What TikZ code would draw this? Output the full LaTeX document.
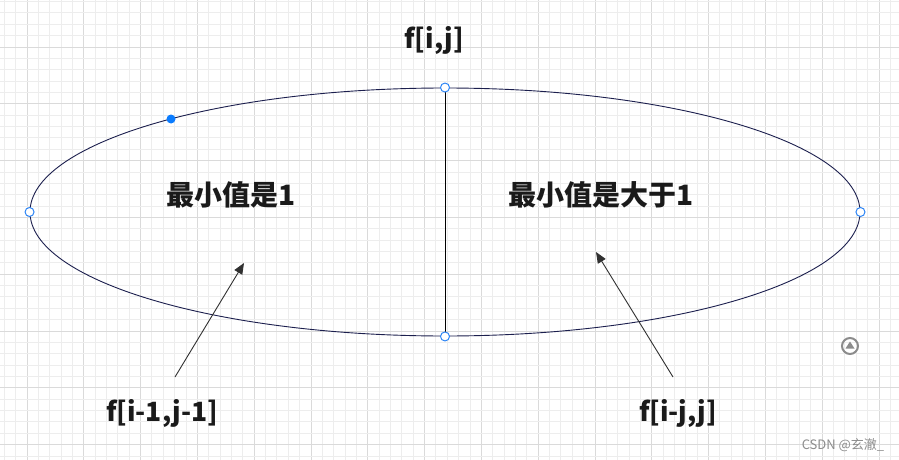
\documentclass[tikz,border=0pt]{standalone}
\usepackage{fontspec}
\setmainfont{Noto Sans CJK SC}
\usetikzlibrary{shapes.geometric,arrows.meta,calc}
\definecolor{gridminor}{HTML}{EDEDED}
\definecolor{gridmajor}{HTML}{DADADA}
\definecolor{navy}{HTML}{1C1F4E}
\definecolor{handle}{HTML}{2F86F6}
\definecolor{dotblue}{HTML}{0A7CFF}
\definecolor{icongray}{HTML}{8C8C8C}
\definecolor{txt}{HTML}{1A1A1A}
\tikzset{
  bigtext/.style={font=\fontsize{26.5}{28}\selectfont\bfseries, text=txt, inner sep=0pt},
  cjktext/.style={font=\fontsize{28}{30}\selectfont\bfseries, text=txt, inner sep=0pt},
  handlept/.style={circle, draw=handle, fill=white, line width=1pt, minimum size=9pt, inner sep=0pt},
  pointer/.style={draw=txt!90, line width=0.9pt, -{Triangle[length=11pt,width=9pt]}},
}
\begin{document}
\begin{tikzpicture}[x=1pt,y=-1pt]
\useasboundingbox (0,0) rectangle (899,460);
\fill[white] (0,0) rectangle (899,460);
% grid
\foreach \k in {0,...,79}{
  \pgfmathsetmacro{\xx}{4.3+11.36*\k}
  \pgfmathtruncatemacro{\m}{mod(\k,5)}
  \ifnum\m=2
    \draw[gridmajor, line width=1pt] (\xx,0) -- (\xx,460);
  \else
    \draw[gridminor, line width=1pt] (\xx,0) -- (\xx,460);
  \fi
}
\foreach \k in {0,...,41}{
  \pgfmathsetmacro{\yy}{1.6+11.36*\k}
  \pgfmathtruncatemacro{\m}{mod(\k,5)}
  \ifnum\m=4
    \draw[gridmajor, line width=1pt] (0,\yy) -- (899,\yy);
  \else
    \draw[gridminor, line width=1pt] (0,\yy) -- (899,\yy);
  \fi
}
% ellipse
\node[ellipse, draw=navy, line width=0.9pt, minimum width=830pt, minimum height=248pt, inner sep=0pt] (E) at (445,212) {};
\draw[black, line width=0.9pt] (E.north) -- (E.south);
\node[handlept] (hn) at (E.north) {};
\node[handlept] (hs) at (E.south) {};
\node[handlept] (hw) at (E.west) {};
\node[handlept] (he) at (E.east) {};
\node[circle, fill=dotblue, minimum size=9pt, inner sep=0pt] (dot) at (171,119) {};
% texts
\node[bigtext] (top) at (434,40) {f[i,j]};
\node[cjktext] (left) at (231,195) {最小值是1};
\node[cjktext] (right) at (601,195) {最小值是大于1};
\node[bigtext] (bl) at (162,413) {f[i-1,j-1]};
\node[bigtext] (br) at (678,413) {f[i-j,j]};
% arrows
\coordinate (a1s) at (175,377);
\coordinate (a1e) at (244,263);
\coordinate (a2s) at (673,377);
\coordinate (a2e) at (596,252);
\draw[pointer] (a1s) -- (a1e);
\draw[pointer] (a2s) -- (a2e);
% icon
\node[circle, draw=icongray, line width=2pt, minimum size=16pt, inner sep=0pt] (icon) at (850,346) {};
\fill[icongray] ($(icon)+(-4.5,2.5)$) -- ($(icon)+(4.5,2.5)$) -- ($(icon)+(0,-4.5)$) -- cycle;
% watermark
\node[text=icongray, font=\fontsize{13}{14}\selectfont, inner sep=0pt] (wm) at (843,445) {CSDN @玄澈\_};
\end{tikzpicture}
\end{document}
